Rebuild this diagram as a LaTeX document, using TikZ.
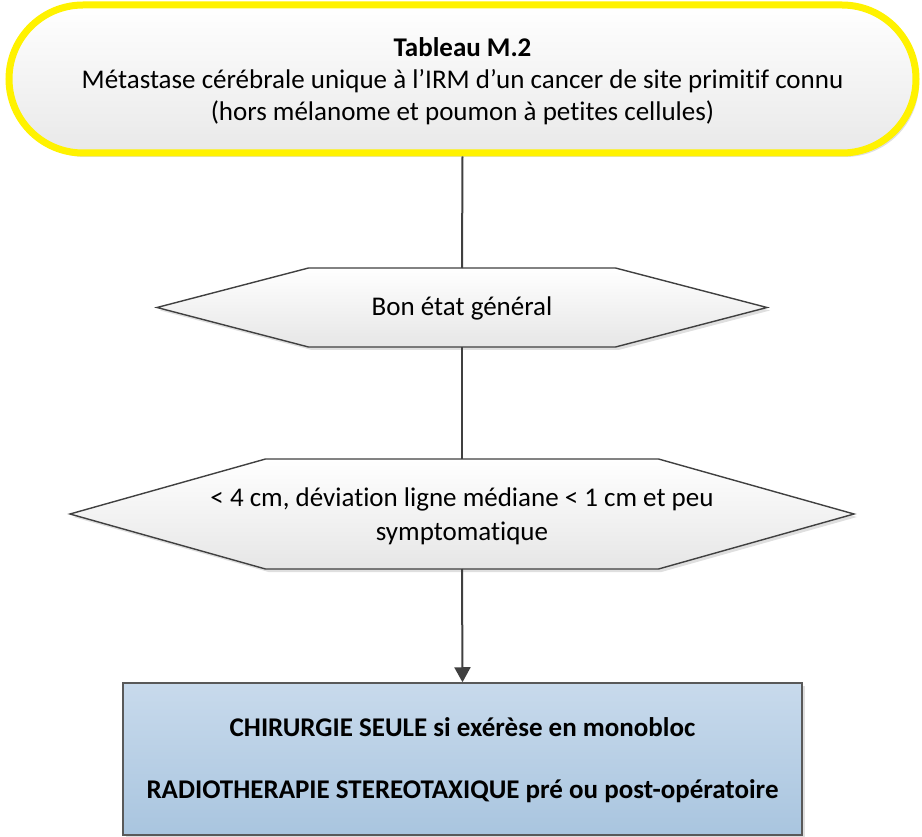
\documentclass[tikz,border=0pt]{standalone}
\usepackage{fontspec}
\setmainfont{Carlito}[Ligatures=NoCommon]
\usetikzlibrary{shapes.misc,arrows.meta,shadows}
\definecolor{lineg}{HTML}{404040}
\definecolor{boxtop}{HTML}{C8DAEC}
\definecolor{boxbot}{HTML}{A9C5DF}
\definecolor{hexbot}{HTML}{E6E6E6}
\tikzset{
  txt/.style={font=\fontsize{27}{32}\selectfont, align=center, text=black},
  termbox/.style={rounded rectangle, draw=yellow, line width=7pt,
    top color=white, bottom color=hexbot!90,
    minimum width=907pt, minimum height=148pt, inner sep=0pt,
    drop shadow={shadow xshift=3pt, shadow yshift=-4pt, opacity=0.25, fill=gray}},
  hexshape/.style={draw=lineg, line width=1.4pt, top color=white, bottom color=hexbot,
    drop shadow={shadow xshift=3pt, shadow yshift=-3pt, opacity=0.25, fill=gray}},
  resbox/.style={rectangle, draw=black!65, line width=1.5pt,
    top color=boxtop, bottom color=boxbot,
    minimum width=679pt, minimum height=152pt, inner sep=0pt,
    drop shadow={shadow xshift=3pt, shadow yshift=-3pt, opacity=0.25, fill=gray}},
  conn/.style={draw=lineg, line width=2pt},
}
\begin{document}
\begin{tikzpicture}[x=1pt,y=-1pt]
\useasboundingbox (0,0) rectangle (922,837);

% terminator
\node[termbox] (term) at (462.5,79) {};
\node[txt] (termtxt) at (462.5,81)
  {\textbf{Tableau M.2}\\Métastase cérébrale unique à l’IRM d’un cancer de site primitif connu\\(hors mélanome et poumon à petites cellules)};

% hexagon 1
\path[hexshape] (157,307.5) -- (308.5,268) -- (615.5,268) -- (767,307.5) -- (615.5,347) -- (308.5,347) -- cycle;
\coordinate (h1n) at (462,268);
\coordinate (h1s) at (462,347);
\node[txt] (h1) at (462,308.5) {Bon état général};

% hexagon 2
\path[hexshape] (70,514) -- (265.5,459) -- (658.5,459) -- (854,514) -- (658.5,569) -- (265.5,569) -- cycle;
\coordinate (h2n) at (462,459);
\coordinate (h2s) at (462,569);
\node[txt, font=\fontsize{27}{34}\selectfont] (h2) at (462,516) {< 4 cm, déviation ligne médiane < 1 cm et peu\\symptomatique};

% result box
\node[resbox, txt] (res) at (462.5,759) {};
\node[txt] (restxt) at (462.5,760)
  {\textbf{CHIRURGIE SEULE si exérèse en monobloc}\\[30pt]\textbf{RADIOTHERAPIE STEREOTAXIQUE pré ou post-opératoire}};

% connectors
\draw[conn] (term.south) -- (h1n);
\draw[conn] (h1s) -- (h2n);
\draw[conn, -{Triangle[width=16pt,length=15pt]}, fill=lineg] (h2s) -- (res.north);
\end{tikzpicture}
\end{document}
